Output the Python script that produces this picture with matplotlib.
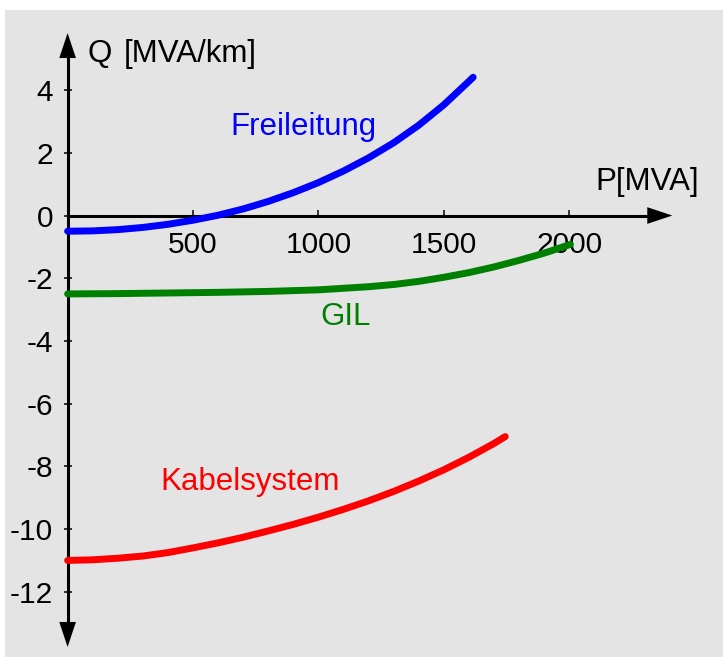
import matplotlib
matplotlib.use("Agg")
import matplotlib.pyplot as plt

plt.rcParams['font.family'] = ['Liberation Sans', 'DejaVu Sans']
plt.rcParams['axes.unicode_minus'] = False

# P in MVA, Q in MVA/km
p_frei = [0, 100, 200, 300, 400, 500, 600, 700, 800, 900, 1000, 1100, 1200,
          1300, 1400, 1500, 1600, 1617]
q_frei = [-0.5, -0.49, -0.45, -0.38, -0.28, -0.15, 0.01, 0.21, 0.45, 0.73, 1.05,
          1.42, 1.84, 2.32, 2.88, 3.53, 4.28, 4.41]

p_gil = [0, 200, 400, 600, 800, 1000, 1200, 1300, 1400, 1500, 1600, 1700, 1800,
         1900, 2005]
q_gil = [-2.5, -2.49, -2.47, -2.45, -2.42, -2.37, -2.27, -2.2, -2.1, -1.97, -1.82,
         -1.64, -1.43, -1.2, -0.92]

p_kabel = [0, 100, 200, 300, 400, 500, 600, 700, 800, 900, 1000, 1100, 1200, 1300,
           1400, 1500, 1600, 1700, 1745]
q_kabel = [-11.0, -10.98, -10.93, -10.86, -10.75, -10.6, -10.44, -10.26, -10.06,
           -9.85, -9.62, -9.37, -9.1, -8.8, -8.47, -8.11, -7.71, -7.27, -7.05]

x_ticks = [500, 1000, 1500, 2000]
y_ticks = [-12, -10, -8, -6, -4, -2, 0, 2, 4]

fig = plt.figure(figsize=(7.23, 6.57), dpi=100)
fig.patch.set_facecolor('white')
ax = fig.add_axes([5 / 723, 0, 718 / 723, 647 / 657])
ax.set_facecolor('#e4e4e4')
ax.set_xlim(-249.6, 2613.2)
ax.set_ylim(-14.08, 6.555)

# axes through the origin
for side in ['top', 'right']:
    ax.spines[side].set_visible(False)
ax.spines['left'].set_position(('data', 0))
ax.spines['bottom'].set_position(('data', 0))
ax.spines['left'].set_bounds(-13.0, 5.0)
ax.spines['bottom'].set_bounds(0, 2310)
for side in ['left', 'bottom']:
    ax.spines[side].set_linewidth(2.2)
    ax.spines[side].set_zorder(1)

ax.set_xticks(x_ticks)
ax.set_yticks(y_ticks)
ax.set_yticklabels([str(v) for v in y_ticks])
ax.tick_params(axis='x', direction='in', length=4, width=1.1, pad=11, labelsize=21.5)
ax.tick_params(axis='y', direction='inout', length=6, width=1.1, pad=7.5, labelsize=21.5)

head = dict(arrowstyle='-|>,head_length=1.8,head_width=0.6', mutation_scale=10,
            color='black', lw=0, shrinkA=0, shrinkB=0)
ax.annotate('', xy=(0, 5.82), xytext=(0, 0), arrowprops=head)
ax.annotate('', xy=(0, -13.76), xytext=(0, 0), arrowprops=head)
ax.annotate('', xy=(2411, 0), xytext=(0, 0), arrowprops=head)

ax.plot(p_frei, q_frei, color='#0000ff', lw=5, solid_capstyle='round', zorder=3)
ax.plot(p_gil, q_gil, color='#008000', lw=5, solid_capstyle='round', zorder=3)
ax.plot(p_kabel, q_kabel, color='#ff0000', lw=5, solid_capstyle='round', zorder=3)

ax.text(648, 2.57, 'Freileitung', color='#0000ff', fontsize=22.5, ha='left', va='baseline')
ax.text(1007, -3.49, 'GIL', color='#008000', fontsize=22.5, ha='left', va='baseline')
ax.text(368, -8.76, 'Kabelsystem', color='#ff0000', fontsize=22.5, ha='left', va='baseline')
ax.text(2103, 0.81, 'P[MVA]', color='black', fontsize=22.5, ha='left', va='baseline')
ax.text(78, 4.9, 'Q', color='black', fontsize=22.5, ha='left', va='baseline')
ax.text(222, 4.9, '[MVA/km]', color='black', fontsize=22.5, ha='left', va='baseline')

fig.savefig('out.png', dpi=100)
